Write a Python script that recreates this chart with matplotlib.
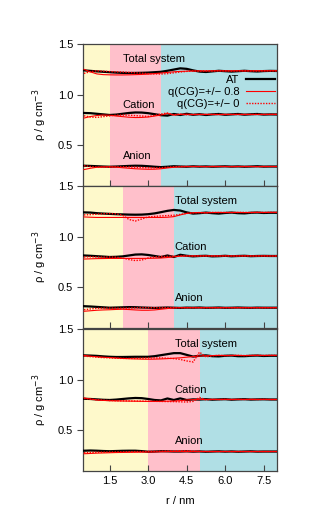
import matplotlib
matplotlib.use('Agg')
import matplotlib.pyplot as plt

plt.rcParams['font.family'] = ['Liberation Sans', 'DejaVu Sans']
plt.rcParams['font.size'] = 8

# r grid (nm)
r = [0.5, 0.75, 1.0, 1.25, 1.5, 1.75, 2.0, 2.25, 2.5, 2.75, 3.0, 3.25, 3.5, 3.75, 4.0,
     4.25, 4.5, 4.75, 5.0, 5.25, 5.5, 5.75, 6.0, 6.25, 6.5, 6.75, 7.0, 7.25, 7.5, 7.75, 8.0]

# region boundaries (nm) for each panel
bounds = [(1.5, 3.5), (2.0, 4.0), (3.0, 5.0)]

# ---- panel 1 ----
p1_tot_at = [1.240, 1.235, 1.230, 1.226, 1.222, 1.218, 1.215, 1.214, 1.215, 1.216, 1.218, 1.222, 1.226, 1.236, 1.248, 1.260,
             1.255, 1.240, 1.228, 1.224, 1.230, 1.236, 1.232, 1.228, 1.232, 1.236, 1.232, 1.229, 1.233, 1.235, 1.234]
p1_tot_q8 = [1.250, 1.225, 1.205, 1.198, 1.196, 1.195, 1.195, 1.196, 1.198, 1.200, 1.203, 1.208, 1.214, 1.220, 1.226, 1.230,
             1.232, 1.234, 1.235, 1.234, 1.235, 1.236, 1.234, 1.235, 1.236, 1.234, 1.235, 1.236, 1.235, 1.236, 1.236]
p1_tot_q0 = [1.210, 1.228, 1.236, 1.232, 1.228, 1.225, 1.224, 1.220, 1.216, 1.212, 1.208, 1.205, 1.204, 1.208, 1.216, 1.224,
             1.230, 1.234, 1.232, 1.236, 1.234, 1.235, 1.236, 1.234, 1.235, 1.236, 1.235, 1.234, 1.236, 1.235, 1.235]
p1_cat_at = [0.820, 0.818, 0.812, 0.806, 0.800, 0.804, 0.812, 0.820, 0.825, 0.824, 0.818, 0.808, 0.798, 0.794, 0.810, 0.800,
             0.812, 0.802, 0.808, 0.800, 0.806, 0.810, 0.802, 0.806, 0.810, 0.803, 0.807, 0.810, 0.804, 0.806, 0.805]
p1_cat_q8 = [0.770, 0.785, 0.795, 0.800, 0.798, 0.790, 0.784, 0.778, 0.775, 0.776, 0.780, 0.790, 0.800, 0.815, 0.800, 0.805,
             0.808, 0.804, 0.806, 0.805, 0.806, 0.804, 0.806, 0.805, 0.806, 0.805, 0.806, 0.805, 0.806, 0.806, 0.806]
p1_cat_q0 = [0.792, 0.780, 0.776, 0.784, 0.792, 0.798, 0.800, 0.798, 0.794, 0.790, 0.786, 0.796, 0.810, 0.820, 0.800, 0.810,
             0.802, 0.806, 0.805, 0.806, 0.805, 0.806, 0.805, 0.806, 0.805, 0.806, 0.805, 0.806, 0.805, 0.806, 0.806]
p1_an_at = [0.300, 0.298, 0.295, 0.292, 0.290, 0.292, 0.295, 0.298, 0.300, 0.299, 0.295, 0.290, 0.286, 0.290, 0.295, 0.292,
            0.290, 0.294, 0.291, 0.293, 0.290, 0.292, 0.294, 0.291, 0.293, 0.290, 0.292, 0.295, 0.291, 0.292, 0.292]
p1_an_q8 = [0.262, 0.275, 0.285, 0.289, 0.290, 0.286, 0.280, 0.275, 0.270, 0.267, 0.265, 0.266, 0.270, 0.278, 0.285, 0.289,
            0.291, 0.292, 0.292, 0.291, 0.292, 0.292, 0.292, 0.291, 0.292, 0.292, 0.292, 0.291, 0.292, 0.292, 0.292]
p1_an_q0 = [0.300, 0.292, 0.286, 0.284, 0.285, 0.288, 0.290, 0.288, 0.285, 0.282, 0.280, 0.279, 0.280, 0.285, 0.290, 0.292,
            0.293, 0.292, 0.292, 0.291, 0.292, 0.292, 0.292, 0.291, 0.292, 0.292, 0.292, 0.291, 0.292, 0.292, 0.292]

# ---- panel 2 ----
p2_tot_at = [1.240, 1.238, 1.232, 1.228, 1.225, 1.222, 1.220, 1.218, 1.217, 1.218, 1.222, 1.230, 1.242, 1.255, 1.264, 1.258,
             1.240, 1.228, 1.232, 1.238, 1.232, 1.228, 1.234, 1.238, 1.232, 1.230, 1.236, 1.238, 1.234, 1.236, 1.236]
p2_tot_q8 = [1.195, 1.192, 1.190, 1.190, 1.190, 1.190, 1.190, 1.190, 1.190, 1.190, 1.190, 1.190, 1.190, 1.192, 1.198, 1.215,
             1.230, 1.236, 1.238, 1.236, 1.238, 1.240, 1.238, 1.239, 1.240, 1.238, 1.239, 1.240, 1.239, 1.240, 1.240]
p2_tot_q0 = [1.215, 1.218, 1.222, 1.226, 1.228, 1.226, 1.212, 1.170, 1.155, 1.175, 1.195, 1.200, 1.205, 1.208, 1.212, 1.220,
             1.230, 1.236, 1.238, 1.236, 1.240, 1.238, 1.240, 1.238, 1.239, 1.240, 1.238, 1.240, 1.239, 1.240, 1.240]
p2_cat_at = [0.815, 0.812, 0.808, 0.804, 0.800, 0.802, 0.806, 0.815, 0.824, 0.826, 0.820, 0.810, 0.800, 0.815, 0.800, 0.822,
             0.812, 0.806, 0.810, 0.812, 0.806, 0.808, 0.812, 0.807, 0.810, 0.812, 0.808, 0.810, 0.811, 0.810, 0.810]
p2_cat_q8 = [0.780, 0.782, 0.784, 0.785, 0.786, 0.786, 0.786, 0.786, 0.786, 0.786, 0.787, 0.788, 0.790, 0.795, 0.802, 0.808,
             0.810, 0.810, 0.810, 0.811, 0.810, 0.810, 0.811, 0.810, 0.810, 0.811, 0.810, 0.810, 0.811, 0.810, 0.810]
p2_cat_q0 = [0.800, 0.802, 0.800, 0.798, 0.800, 0.798, 0.790, 0.775, 0.765, 0.770, 0.790, 0.800, 0.805, 0.806, 0.808, 0.810,
             0.810, 0.811, 0.810, 0.810, 0.811, 0.810, 0.810, 0.811, 0.810, 0.810, 0.811, 0.810, 0.810, 0.810, 0.810]
p2_an_at = [0.315, 0.312, 0.308, 0.304, 0.300, 0.302, 0.304, 0.306, 0.305, 0.302, 0.300, 0.298, 0.300, 0.302, 0.300, 0.298,
            0.301, 0.300, 0.302, 0.299, 0.300, 0.302, 0.299, 0.300, 0.302, 0.300, 0.299, 0.301, 0.300, 0.300, 0.300]
p2_an_q8 = [0.265, 0.270, 0.275, 0.278, 0.280, 0.283, 0.285, 0.282, 0.278, 0.275, 0.275, 0.278, 0.285, 0.292, 0.298, 0.300,
            0.300, 0.300, 0.300, 0.300, 0.300, 0.300, 0.300, 0.300, 0.300, 0.300, 0.300, 0.300, 0.300, 0.300, 0.300]
p2_an_q0 = [0.280, 0.288, 0.294, 0.296, 0.296, 0.295, 0.295, 0.296, 0.298, 0.300, 0.300, 0.300, 0.300, 0.300, 0.300, 0.300,
            0.300, 0.300, 0.300, 0.300, 0.300, 0.300, 0.300, 0.300, 0.300, 0.300, 0.300, 0.300, 0.300, 0.300, 0.300]

# ---- panel 3 ----
p3_tot_at = [1.240, 1.238, 1.235, 1.230, 1.226, 1.224, 1.224, 1.225, 1.226, 1.226, 1.226, 1.232, 1.242, 1.252, 1.262, 1.262,
             1.245, 1.228, 1.236, 1.240, 1.232, 1.230, 1.236, 1.238, 1.232, 1.232, 1.236, 1.238, 1.234, 1.236, 1.236]
p3_tot_q8 = [1.240, 1.232, 1.226, 1.222, 1.218, 1.214, 1.210, 1.207, 1.205, 1.203, 1.202, 1.203, 1.205, 1.208, 1.212, 1.216,
             1.222, 1.228, 1.234, 1.236, 1.238, 1.240, 1.238, 1.239, 1.240, 1.238, 1.239, 1.240, 1.239, 1.240, 1.240]
p3_tot_q0 = [1.232, 1.228, 1.222, 1.218, 1.215, 1.212, 1.210, 1.210, 1.210, 1.212, 1.214, 1.215, 1.215, 1.212, 1.208, 1.200,
             1.185, 1.175, 1.272, 1.225, 1.236, 1.240, 1.238, 1.239, 1.240, 1.238, 1.239, 1.240, 1.239, 1.240, 1.240]
p3_cat_at = [0.812, 0.810, 0.806, 0.802, 0.800, 0.804, 0.810, 0.816, 0.820, 0.818, 0.810, 0.800, 0.796, 0.815, 0.800, 0.816,
             0.800, 0.806, 0.804, 0.808, 0.803, 0.806, 0.808, 0.803, 0.806, 0.808, 0.804, 0.806, 0.807, 0.805, 0.805]
p3_cat_q8 = [0.820, 0.810, 0.800, 0.796, 0.793, 0.791, 0.790, 0.789, 0.788, 0.787, 0.786, 0.786, 0.787, 0.788, 0.790, 0.794,
             0.800, 0.804, 0.806, 0.805, 0.806, 0.805, 0.806, 0.805, 0.806, 0.805, 0.806, 0.805, 0.806, 0.805, 0.805]
p3_cat_q0 = [0.815, 0.808, 0.802, 0.798, 0.795, 0.793, 0.792, 0.791, 0.790, 0.789, 0.788, 0.787, 0.786, 0.785, 0.784, 0.782,
             0.780, 0.786, 0.825, 0.802, 0.806, 0.805, 0.806, 0.805, 0.806, 0.805, 0.806, 0.805, 0.806, 0.805, 0.805]
p3_an_at = [0.300, 0.302, 0.300, 0.297, 0.295, 0.297, 0.299, 0.300, 0.300, 0.296, 0.290, 0.292, 0.295, 0.294, 0.292, 0.292,
            0.294, 0.291, 0.293, 0.290, 0.292, 0.294, 0.291, 0.293, 0.290, 0.292, 0.294, 0.291, 0.292, 0.292, 0.292]
p3_an_q8 = [0.270, 0.273, 0.276, 0.278, 0.280, 0.282, 0.283, 0.284, 0.285, 0.286, 0.287, 0.288, 0.290, 0.291, 0.292, 0.292,
            0.292, 0.292, 0.292, 0.292, 0.292, 0.292, 0.292, 0.292, 0.292, 0.292, 0.292, 0.292, 0.292, 0.292, 0.292]
p3_an_q0 = [0.280, 0.283, 0.285, 0.286, 0.287, 0.288, 0.289, 0.290, 0.291, 0.292, 0.293, 0.294, 0.295, 0.297, 0.299, 0.300,
            0.300, 0.298, 0.294, 0.292, 0.292, 0.292, 0.292, 0.292, 0.292, 0.292, 0.292, 0.292, 0.292, 0.292, 0.292]

panels = [
    [(p1_tot_at, p1_tot_q8, p1_tot_q0), (p1_cat_at, p1_cat_q8, p1_cat_q0), (p1_an_at, p1_an_q8, p1_an_q0)],
    [(p2_tot_at, p2_tot_q8, p2_tot_q0), (p2_cat_at, p2_cat_q8, p2_cat_q0), (p2_an_at, p2_an_q8, p2_an_q0)],
    [(p3_tot_at, p3_tot_q8, p3_tot_q0), (p3_cat_at, p3_cat_q8, p3_cat_q0), (p3_an_at, p3_an_q8, p3_an_q0)],
]
group_names = ['Total system', 'Cation', 'Anion']
label_x = [2.0, 4.03, 4.03]
label_y = [1.355, 0.90, 0.395]
legend_labels = ['AT', 'q(CG)=+/\u2212 0.8', 'q(CG)=+/\u2212 0']

fig = plt.figure(figsize=(3.14, 5.17), dpi=100)
left, width = 83 / 314, 194 / 314
tops = [44, 186, 329]
h = 142 / 517
spine_c = '#444444'

for i in range(3):
    ax = fig.add_axes([left, 1 - tops[i] / 517 - h, width, h])
    b1, b2 = bounds[i]
    ax.axvspan(0, b1, color='#fef9cb', lw=0, zorder=0)
    ax.axvspan(b1, b2, color='#ffc0cb', lw=0, zorder=0)
    ax.axvspan(b2, 9, color='#b0dfe5', lw=0, zorder=0)
    for j, (at, q8, q0) in enumerate(panels[i]):
        ax.plot(r, at, color='black', lw=1.6, zorder=3, label=legend_labels[0] if j == 0 else None)
        ax.plot(r, q8, color='red', lw=0.8, zorder=4, label=legend_labels[1] if j == 0 else None)
        ax.plot(r, q0, color='red', lw=1.0, ls=(0, (1, 1)), zorder=4, label=legend_labels[2] if j == 0 else None)
        ax.text(label_x[i], label_y[j], group_names[j], ha='left', va='center', fontsize=8, zorder=5)
    ax.set_xlim(0.46, 8.02)
    ax.set_ylim(0.1, 1.5)
    ax.set_yticks([0.5, 1.0, 1.5])
    ax.set_yticklabels(['0.5', '1.0', '1.5'])
    ax.set_xticks([1.5, 3.0, 4.5, 6.0, 7.5])
    ax.tick_params(axis='x', direction='in', length=4, color=spine_c)
    ax.tick_params(axis='y', direction='out', length=4, color=spine_c, pad=3)
    for s in ax.spines.values():
        s.set_color(spine_c)
        s.set_linewidth(0.9)
    if i < 2:
        ax.set_xticklabels([])
    else:
        ax.set_xticklabels(['1.5', '3.0', '4.5', '6.0', '7.5'])
    if i == 0:
        ax.legend(loc='upper right', bbox_to_anchor=(1.0, 0.80), frameon=False, markerfirst=False,
                  handlelength=2.6, handletextpad=0.6, labelspacing=0.2, borderpad=0.2, borderaxespad=0.0,
                  fontsize=8)
    fig.text(40 / 314, 1 - (tops[i] + 71) / 517, '\u03c1 / g cm$^{-3}$', rotation=90,
             ha='center', va='center', fontsize=8)

fig.text(180 / 314, 1 - 501 / 517, 'r / nm', ha='center', va='center', fontsize=8)

fig.savefig('out.png', dpi=100)
